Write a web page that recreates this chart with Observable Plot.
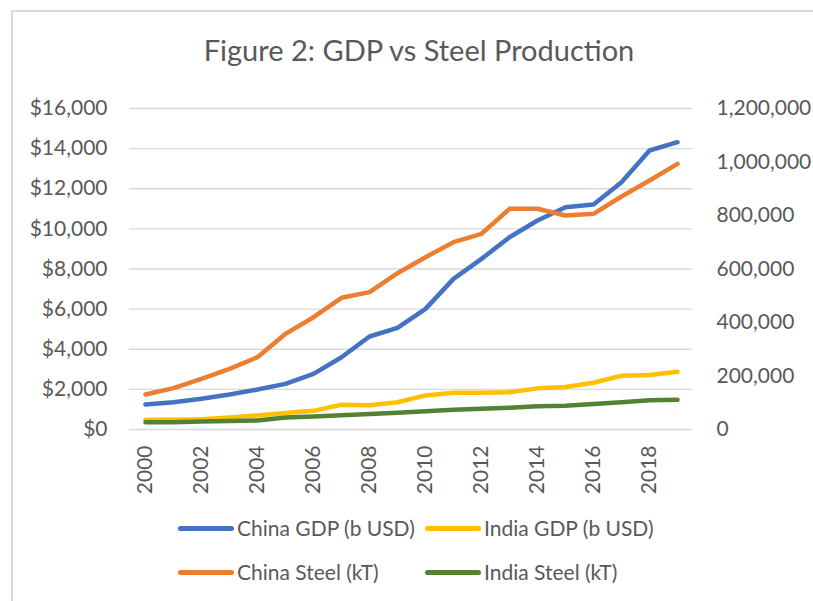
<!DOCTYPE html>
<html>
<head>
<meta charset="utf-8">
<script src="https://cdn.jsdelivr.net/npm/d3@7"></script>
<script src="https://cdn.jsdelivr.net/npm/@observablehq/plot@0.6"></script>
<style>
  html, body { margin: 0; padding: 0; background: #fff; }
  #wrap { position: relative; width: 813px; height: 601px; overflow: hidden; font-family: Lato, sans-serif; color: #595959; }
  #frame { position: absolute; left: 11px; top: 10px; width: 820px; height: 620px; border: 2px solid #d9d9d9; box-sizing: border-box; }
  #title { position: absolute; left: 0; top: 32px; width: 838px; text-align: center; font-size: 29px; line-height: 36px; white-space: nowrap; }
  #chart { position: absolute; left: 0; top: 0; }
  .leg { position: absolute; display: flex; align-items: center; font-size: 21px; line-height: 26px; white-space: nowrap; }
  .sw { width: 56px; height: 5px; border-radius: 3px; margin-right: 3px; }
</style>
</head>
<body>
<div id="wrap">
  <div id="frame"></div>
  <div id="chart"></div>
  <div id="title">Figure 2: GDP vs Steel Production</div>
  <div id="legend"></div>
</div>
<script>
// ---- data ----
const years = [2000,2001,2002,2003,2004,2005,2006,2007,2008,2009,2010,2011,2012,2013,2014,2015,2016,2017,2018,2019];
const chinaGDP = [1246,1362,1528,1744,1993,2276,2774,3604,4635,5067,6014,7509,8505,9585,10417,11080,11214,12326,13905,14320];
const indiaGDP = [480,490,515,600,700,820,930,1230,1210,1360,1700,1830,1830,1860,2050,2120,2330,2680,2720,2880];
const chinaSteel = [130800,154500,189400,226800,270300,357600,419800,492300,513400,584400,644200,700300,731600,825000,825000,800000,806300,871000,930800,993200];
const indiaSteel = [27400,27400,29500,31700,33500,45000,49000,53500,57800,63000,68500,73500,77300,81300,87000,89000,95500,101500,109300,111500];
const gdpTicks = [0,2000,4000,6000,8000,10000,12000,14000,16000];
const steelTicks = [0,200000,400000,600000,800000,1000000,1200000];
const xTickYears = [2000,2002,2004,2006,2008,2010,2012,2014,2016,2018];
const seriesNames = ["China GDP (b USD)","India GDP (b USD)","China Steel (kT)","India Steel (kT)"];
const seriesColors = ["#4472C4","#FFC000","#ED7D31","#548235"];

// ---- build ----
const ratio = steelTicks[steelTicks.length-1] / gdpTicks[gdpTicks.length-1];
const rows = (vals, name, div) => vals.map((v,i) => ({year: years[i], value: v / div, series: name}));
const sChinaGDP = rows(chinaGDP, seriesNames[0], 1);
const sIndiaGDP = rows(indiaGDP, seriesNames[1], 1);
const sChinaSteel = rows(chinaSteel, seriesNames[2], ratio);
const sIndiaSteel = rows(indiaSteel, seriesNames[3], ratio);

const H = 500;
const lineOpts = (c) => ({x: "year", y: "value", stroke: c, strokeWidth: 4.5, strokeLinejoin: "round", strokeLinecap: "round"});

const chart = Plot.plot({
  width: 813,
  height: H,
  marginLeft: 129,
  marginRight: 121,
  marginTop: 108,
  marginBottom: H - 429,
  style: {fontFamily: "Lato, sans-serif", fontSize: "21px", color: "#595959", background: "transparent", overflow: "visible"},
  x: {type: "point", domain: years, padding: 0.5, axis: null},
  y: {domain: [0, 16000], axis: null},
  marks: [
    Plot.gridY(gdpTicks, {stroke: "#d9d9d9", strokeOpacity: 1, strokeWidth: 1.3}),
    Plot.axisY(gdpTicks, {anchor: "left", tickSize: 0, tickPadding: 22, label: null, tickFormat: d => "$" + d3.format(",")(d), fill: "#595959"}),
    Plot.axisY(steelTicks.map(v => v / ratio), {anchor: "right", tickSize: 0, tickPadding: 24, label: null, tickFormat: d => d3.format(",")(Math.round(d * ratio)), fill: "#595959"}),
    Plot.axisX(xTickYears, {anchor: "bottom", tickSize: 0, tickPadding: 16, tickRotate: -90, label: null, tickFormat: d => String(d), fill: "#595959"}),
    Plot.line(sChinaGDP, lineOpts(seriesColors[0])),
    Plot.line(sIndiaGDP, lineOpts(seriesColors[1])),
    Plot.line(sChinaSteel, lineOpts(seriesColors[2])),
    Plot.line(sIndiaSteel, lineOpts(seriesColors[3]))
  ]
});
document.getElementById("chart").appendChild(chart);

// legend
const legPos = [[178, 515], [425, 515], [178, 559], [425, 559]];
const legend = document.getElementById("legend");
seriesNames.forEach((name, i) => {
  const d = document.createElement("div");
  d.className = "leg";
  d.style.left = legPos[i][0] + "px";
  d.style.top = legPos[i][1] + "px";
  const sw = document.createElement("div");
  sw.className = "sw";
  sw.style.background = seriesColors[i];
  const t = document.createElement("span");
  t.textContent = name;
  d.appendChild(sw); d.appendChild(t);
  legend.appendChild(d);
});
</script>
</body>
</html>
